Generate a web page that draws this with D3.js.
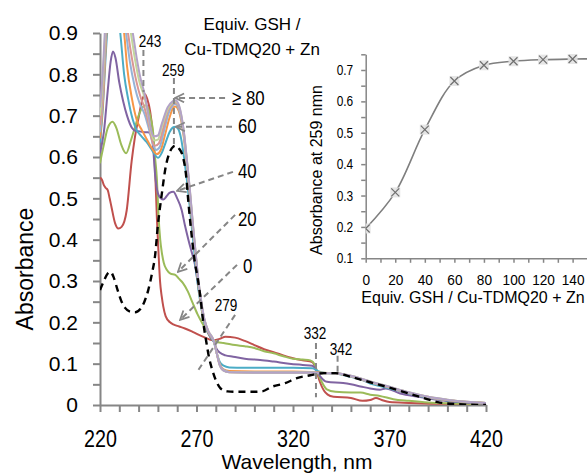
<!DOCTYPE html>
<html><head><meta charset="utf-8">
<script src="https://cdn.jsdelivr.net/npm/d3@7"></script>
<style>
body{margin:0;background:#fff}
svg{display:block}
text{font-family:"Liberation Sans",Arial,sans-serif;fill:#000}
</style>
</head><body>
<svg id="c" width="587" height="474"></svg>
<script>
// ---------- DATA ----------
const wlLabelTicks = [220, 270, 320, 370, 420];
const absLabelTicks = [0, 0.1, 0.2, 0.3, 0.4, 0.5, 0.6, 0.7, 0.8, 0.9];
const equivLabelTicks = [0, 20, 40, 60, 80, 100, 120, 140];
const insetAbsLabelTicks = [0.1, 0.2, 0.3, 0.4, 0.5, 0.6, 0.7];

// inset: absorbance at 259 nm vs equiv. GSH
const equivGSH = [0, 20, 40, 60, 80, 100, 120, 140, 160];
const abs259   = [0.195, 0.31, 0.51, 0.665, 0.715, 0.728, 0.733, 0.735, 0.736];

// spectra: [wavelength nm, absorbance]
const specRef = [[220,0.278],[222,0.30],[224,0.318],[225.5,0.322],[227,0.31],[229,0.28],[231,0.252],[233,0.235],[235.5,0.226],[238,0.224],[241,0.233],[243,0.25],[245,0.278],[247,0.32],[248.5,0.36],[250,0.435],[252,0.51],[254,0.575],[256,0.61],[258,0.625],[259,0.627],[261,0.62],[263,0.6],[264.5,0.56],[266,0.48],[267.5,0.41],[269,0.35],[270.5,0.31],[272,0.262],[273.5,0.2],[275,0.155],[276.5,0.115],[278.5,0.08],[280.5,0.055],[282.5,0.04],[286,0.033],[290,0.032],[300,0.032],[304,0.033],[309,0.044],[316,0.053],[322,0.065],[329,0.072],[332,0.075],[336,0.077],[342,0.077],[350,0.068],[360,0.055],[370,0.042],[380,0.028],[387,0.018],[395,0.007],[405,0.002],[420,0]];
const spec0 = [[220,0.55],[221,0.545],[222,0.532],[223,0.525],[224,0.52],[225,0.5],[226,0.478],[227.8,0.44],[229.5,0.427],[231.2,0.431],[233.8,0.47],[236.4,0.59],[238,0.645],[240,0.695],[242,0.74],[243.3,0.752],[244.5,0.74],[246,0.71],[247.3,0.66],[248,0.62],[248.7,0.55],[249.5,0.45],[250.3,0.37],[251.1,0.3],[252,0.262],[252.8,0.238],[254,0.215],[256.3,0.2],[258,0.195],[261,0.19],[264,0.185],[268,0.177],[273,0.166],[278.5,0.157],[282,0.16],[285,0.165],[290,0.163],[295,0.155],[300,0.145],[305,0.135],[310,0.128],[315,0.12],[320,0.113],[325,0.108],[330,0.104],[332,0.085],[334,0.055],[336,0.035],[338,0.025],[341,0.02],[350,0.017],[356,0.01],[360,0.012],[363,0.017],[366,0.012],[370,0.007],[380,0.005],[395,0.003],[420,0.002]];
const spec20 = [[220,0.585],[222,0.63],[224,0.67],[226.5,0.685],[228.5,0.67],[231,0.63],[233.5,0.609],[236,0.64],[238,0.67],[240,0.7],[242,0.72],[244,0.725],[246,0.70],[247.5,0.66],[248.5,0.6],[249.5,0.545],[250.3,0.46],[251.2,0.4],[252,0.37],[253,0.345],[254.6,0.327],[256.5,0.318],[259,0.315],[261,0.305],[263,0.295],[265.5,0.275],[268,0.247],[270.5,0.22],[273,0.198],[276,0.175],[278.5,0.157],[281,0.152],[284,0.15],[290,0.145],[295,0.142],[300,0.138],[305,0.13],[310,0.125],[315,0.118],[320,0.112],[325,0.11],[329,0.108],[331,0.1],[333,0.075],[335,0.055],[337.5,0.038],[342,0.032],[350,0.03],[355,0.03],[360,0.025],[365,0.022],[372,0.014],[380,0.01],[390,0.006],[400,0.004],[420,0.002]];
const spec40 = [[220,0.61],[222,0.66],[224,0.76],[225.5,0.83],[226.7,0.855],[228,0.84],[230,0.78],[232,0.735],[234,0.70],[236.6,0.67],[238.5,0.663],[240.7,0.662],[243,0.66],[245,0.66],[246.5,0.652],[247.5,0.625],[248.5,0.56],[250,0.512],[251.5,0.5],[252.8,0.497],[254.5,0.505],[256,0.513],[258,0.516],[260,0.5],[262.3,0.472],[264,0.435],[265.8,0.4],[267.5,0.37],[269.2,0.34],[270.5,0.3],[271.8,0.26],[273.5,0.21],[275,0.185],[277,0.165],[279,0.153],[280.5,0.135],[282,0.127],[285,0.12],[289,0.117],[295,0.112],[303,0.109],[310,0.105],[318,0.1],[325,0.097],[330,0.095],[332,0.085],[334,0.07],[337.6,0.056],[346,0.053],[350,0.05],[355,0.045],[360,0.04],[365,0.037],[368,0.04],[375.5,0.028],[385,0.02],[396,0.012],[405,0.007],[415,0.004],[420,0.003]];
const spec60 = [[220,0.635],[221.5,0.72],[223,0.85],[224.5,0.95],[226.5,1.0],[228.5,0.97],[230.5,0.9],[232.5,0.8],[234.6,0.74],[237,0.69],[239,0.665],[241.5,0.65],[244,0.637],[246.5,0.62],[248.5,0.605],[250,0.598],[252,0.61],[254,0.635],[256,0.66],[258,0.672],[259,0.673],[260.5,0.668],[262,0.645],[263.5,0.6],[265,0.545],[266.5,0.48],[268,0.41],[269.5,0.34],[271,0.28],[272.5,0.235],[274,0.2],[276,0.175],[278,0.16],[279,0.152],[280.5,0.125],[282,0.105],[284,0.095],[287,0.091],[295,0.09],[310,0.09],[320,0.09],[330,0.089],[333,0.082],[336,0.078],[342,0.076],[350,0.068],[355,0.062],[360,0.052],[365,0.046],[370,0.04],[380,0.028],[390,0.018],[400,0.011],[410,0.007],[420,0.005]];
const spec80 = [[220,0.645],[221.5,0.73],[223,0.87],[224.5,0.98],[226.5,1.03],[229,1.0],[231,0.95],[232.5,0.9],[234,0.82],[236.6,0.74],[239,0.69],[241.7,0.665],[244,0.645],[247,0.62],[249.5,0.607],[251.5,0.617],[253.5,0.65],[256,0.695],[258,0.72],[259,0.722],[260.5,0.715],[262,0.69],[263.5,0.645],[265,0.58],[266.5,0.51],[268,0.43],[269.5,0.36],[271,0.29],[272.5,0.24],[274,0.205],[276,0.177],[278,0.162],[279,0.155],[280.5,0.125],[282,0.1],[284,0.086],[287,0.082],[300,0.081],[320,0.081],[330,0.08],[335,0.078],[342,0.077],[350,0.069],[360,0.055],[370,0.042],[380,0.029],[390,0.019],[400,0.012],[410,0.007],[420,0.005]];
const spec100 = [[220,0.66],[221.5,0.75],[223,0.89],[224.5,1.0],[226.5,1.05],[229,1.03],[231.5,0.97],[233.5,0.9],[235.5,0.83],[238,0.77],[240.5,0.73],[243,0.705],[245.5,0.665],[247.5,0.63],[249,0.617],[251,0.625],[253,0.66],[255.5,0.705],[257.5,0.724],[259,0.728],[260.5,0.72],[262,0.695],[263.5,0.65],[265,0.585],[266.5,0.515],[268,0.435],[269.5,0.365],[271,0.295],[272.5,0.245],[274,0.207],[276,0.178],[278,0.163],[279,0.155],[280.5,0.125],[282,0.098],[284,0.085],[287,0.08],[300,0.079],[320,0.079],[330,0.079],[335,0.077],[342,0.077],[350,0.069],[360,0.055],[370,0.042],[380,0.029],[390,0.019],[400,0.012],[410,0.007],[420,0.005]];
const spec120 = [[220,0.677],[221.5,0.77],[223,0.91],[224.5,1.02],[226.5,1.07],[229,1.05],[232,0.98],[234.5,0.9],[236.5,0.84],[239,0.78],[241,0.745],[243,0.72],[245.5,0.675],[247,0.64],[248.5,0.627],[250.5,0.633],[252.5,0.665],[255,0.71],[257.5,0.728],[259,0.732],[260.5,0.725],[262,0.7],[263.5,0.655],[265,0.59],[266.5,0.52],[268,0.44],[269.5,0.368],[271,0.298],[272.5,0.247],[274,0.208],[276,0.179],[278,0.164],[279,0.155],[280.5,0.125],[282,0.097],[284,0.084],[287,0.079],[300,0.078],[320,0.078],[330,0.078],[335,0.077],[342,0.077],[350,0.07],[360,0.056],[370,0.043],[380,0.03],[390,0.02],[400,0.012],[410,0.008],[420,0.005]];
const spec140 = [[220,0.70],[221.5,0.79],[223,0.93],[224.5,1.04],[226.5,1.09],[229,1.07],[232,1.0],[236,0.9],[238,0.84],[240.5,0.78],[243,0.745],[245,0.7],[246.5,0.66],[248,0.64],[250,0.642],[252,0.672],[255,0.715],[257.5,0.731],[259,0.735],[260.5,0.728],[262,0.703],[263.5,0.658],[265,0.593],[266.5,0.523],[268,0.443],[269.5,0.37],[271,0.3],[272.5,0.249],[274,0.209],[276,0.18],[278,0.165],[279,0.155],[280.5,0.125],[282,0.097],[284,0.083],[287,0.079],[300,0.078],[320,0.078],[330,0.078],[335,0.077],[342,0.077],[350,0.071],[360,0.057],[370,0.044],[380,0.031],[390,0.02],[400,0.013],[410,0.008],[420,0.005]];
const spec160 = [[220,0.72],[221.5,0.81],[223,0.95],[224.5,1.06],[226.5,1.11],[229,1.09],[232,1.02],[237,0.9],[239,0.84],[241,0.79],[243,0.755],[245,0.705],[246.5,0.665],[248,0.65],[250,0.652],[252,0.68],[255,0.72],[257.5,0.734],[259,0.737],[260.5,0.73],[262,0.705],[263.5,0.66],[265,0.595],[266.5,0.525],[268,0.445],[269.5,0.372],[271,0.302],[272.5,0.25],[274,0.21],[276,0.18],[278,0.165],[279,0.155],[280.5,0.125],[282,0.097],[284,0.083],[287,0.079],[300,0.078],[320,0.078],[330,0.078],[335,0.077],[342,0.077],[350,0.071],[360,0.057],[370,0.044],[380,0.031],[390,0.02],[400,0.013],[410,0.008],[420,0.005]];

const seriesList = [
  {name:"ref", data:specRef, color:"#000000", dash:"7,5", width:2.4},
  {name:"0",   data:spec0,   color:"#C0504D"},
  {name:"20",  data:spec20,  color:"#9BBB59"},
  {name:"40",  data:spec40,  color:"#8064A2"},
  {name:"60",  data:spec60,  color:"#4BACC6"},
  {name:"80",  data:spec80,  color:"#F79646"},
  {name:"100", data:spec100, color:"#95B3D7"},
  {name:"120", data:spec120, color:"#D99694"},
  {name:"140", data:spec140, color:"#C3D69B"},
  {name:"160", data:spec160, color:"#B3A2C7"}
];

// annotations in data units
const arrows = [
  {from:[284.8,0.743], to:[259.0,0.743]},
  {from:[288.4,0.673], to:[259.4,0.673]},
  {from:[288.9,0.564], to:[259.9,0.518]},
  {from:[290.0,0.460], to:[260.4,0.322]},
  {from:[291.0,0.339], to:[261.5,0.206]}
];
const guideLines = [
  {from:[242.5,0.859], to:[242.5,0.757]},
  {from:[258.3,0.791], to:[258.3,0.624]},
  {from:[290.0,0.218], to:[270.3,0.080]},
  {from:[331.9,0.150], to:[331.9,0.019]},
  {from:[343.1,0.119], to:[343.1,0.080]}
];
const numLabels = [
  {t:"243", at:[245.9,0.866], anchor:"middle", size:17},
  {t:"259", at:[258.0,0.797], anchor:"middle", size:17},
  {t:"279", at:[285.3,0.227], anchor:"middle", size:17},
  {t:"332", at:[331.4,0.160], anchor:"middle", size:17},
  {t:"342", at:[344.9,0.121], anchor:"middle", size:17},
  {t:"\u2265 80", at:[288.4,0.727], anchor:"start", size:21},
  {t:"60", at:[291.5,0.659], anchor:"start", size:21},
  {t:"40", at:[291.5,0.550], anchor:"start", size:21},
  {t:"20", at:[291.5,0.434], anchor:"start", size:21},
  {t:"0",  at:[294.1,0.320], anchor:"start", size:21}
];
const titleLines = [
  {t:"Equiv. GSH /", at:[298.8,0.907]},
  {t:"Cu-TDMQ20 + Zn", at:[298.8,0.847]}
];

// ---------- DRAW ----------
const svg = d3.select("#c");
const grey = "#868686";
function narrow(sel, k){ sel.each(function(){ const L=this.getComputedTextLength(); if(L>0){ this.setAttribute("textLength", (L*k).toFixed(2)); this.setAttribute("lengthAdjust","spacingAndGlyphs"); } }); }

const x = d3.scaleLinear().domain([220,420]).range([100,486]);
const y = d3.scaleLinear().domain([0,0.9]).range([405,33]);

const defs = svg.append("defs");
defs.append("clipPath").attr("id","clipMain").append("rect")
  .attr("x",x(220)).attr("y",y(0.9)).attr("width",x(420)-x(220)+2).attr("height",y(0)-y(0.9));
defs.append("marker").attr("id","arr").attr("viewBox","0 0 10 10").attr("refX",9).attr("refY",5)
  .attr("markerWidth",11).attr("markerHeight",11).attr("markerUnits","userSpaceOnUse").attr("orient","auto")
  .append("path").attr("d","M1,1 L9,5 L1,9").attr("fill","none").attr("stroke",grey).attr("stroke-width",1.6);

// main axes
const xAxis = d3.axisBottom(x).tickValues(d3.range(220,421,10)).tickSize(7).tickSizeOuter(0).tickPadding(18)
  .tickFormat(d => wlLabelTicks.includes(d) ? d : "");
const gx = svg.append("g").attr("transform",`translate(0,${y(0)})`).call(xAxis);
const yTickVals = d3.range(0,19).map(i => i*0.05);
const yAxis = d3.axisLeft(y).tickValues(yTickVals).tickSize(7).tickSizeOuter(0).tickPadding(15)
  .tickFormat(d => { const r=Math.round(d*10)/10; return (Math.abs(r-d)<1e-6 && absLabelTicks.some(v=>Math.abs(v-r)<1e-6)) ? String(r) : ""; });
const gy = svg.append("g").attr("transform",`translate(${x(220)},0)`).call(yAxis);
[gx,gy].forEach(g => { g.selectAll("path,line").attr("stroke",grey).attr("stroke-width",2); g.selectAll("text").attr("font-family","Liberation Sans, Arial, sans-serif"); });
gx.selectAll("text").attr("font-size",24).call(narrow,0.82);
gy.selectAll("text").attr("font-size",21);

svg.append("text").attr("transform",`translate(33,269) rotate(-90)`).attr("text-anchor","middle")
  .attr("font-size",23).text("Absorbance");
svg.append("text").attr("x",297).attr("y",469).attr("text-anchor","middle").attr("font-size",21).text("Wavelength, nm");

// spectra
const line = d3.line().x(d=>x(d[0])).y(d=>y(d[1])).curve(d3.curveMonotoneX);
const gS = svg.append("g").attr("clip-path","url(#clipMain)");
seriesList.slice(1).concat([seriesList[0]]).forEach(s => {
  gS.append("path").datum(s.data).attr("d",line).attr("fill","none")
    .attr("stroke",s.color).attr("stroke-width",s.width||2).attr("stroke-dasharray",s.dash||null)
    .attr("stroke-linejoin","round");
});

// annotations
const gA = svg.append("g");
guideLines.forEach(g => gA.append("line").attr("x1",x(g.from[0])).attr("y1",y(g.from[1])).attr("x2",x(g.to[0])).attr("y2",y(g.to[1]))
  .attr("stroke",grey).attr("stroke-width",2).attr("stroke-dasharray","6,4"));
arrows.forEach(a => gA.append("line").attr("x1",x(a.from[0])).attr("y1",y(a.from[1])).attr("x2",x(a.to[0])).attr("y2",y(a.to[1]))
  .attr("stroke",grey).attr("stroke-width",2).attr("stroke-dasharray","6,4").attr("marker-end","url(#arr)"));
numLabels.forEach(l => gA.append("text").attr("x",x(l.at[0])).attr("y",y(l.at[1])).attr("text-anchor",l.anchor)
  .attr("font-size",l.size).text(l.t).call(narrow,0.8));
titleLines.forEach(l => gA.append("text").attr("x",x(l.at[0])).attr("y",y(l.at[1])).attr("text-anchor","middle")
  .attr("font-size",17).text(l.t));

// ---------- INSET ----------
const xi = d3.scaleLinear().domain([0,150]).range([365.7,587.4]);
const yi = d3.scaleLinear().domain([0.1,0.75]).range([258.3,54.3]);
defs.append("clipPath").attr("id","clipIn").append("rect").attr("x",xi(0)).attr("y",yi(0.75)-10).attr("width",xi(150)-xi(0)).attr("height",yi(0.1)-yi(0.75)+10);

const xiAxis = d3.axisBottom(xi).tickValues(d3.range(0,151,10)).tickSize(4.5).tickSizeOuter(0).tickPadding(11)
  .tickFormat(d => equivLabelTicks.includes(d) ? d : "");
const giX = svg.append("g").attr("transform",`translate(0,${yi(0.1)})`).call(xiAxis);
const yiAxis = d3.axisLeft(yi).tickValues(d3.range(0,14).map(i=>0.1+i*0.05)).tickSize(4.5).tickSizeOuter(0).tickPadding(8)
  .tickFormat(d => { const r=Math.round(d*10)/10; return (Math.abs(r-d)<1e-6 && insetAbsLabelTicks.some(v=>Math.abs(v-r)<1e-6)) ? r.toFixed(1) : ""; });
const giY = svg.append("g").attr("transform",`translate(${xi(0)},0)`).call(yiAxis);
[giX,giY].forEach(g => { g.selectAll("path,line").attr("stroke",grey).attr("stroke-width",1.5); g.selectAll("text").attr("font-family","Liberation Sans, Arial, sans-serif"); });
giX.selectAll("text").attr("font-size",15.5).call(narrow,0.88);
giY.selectAll("text").attr("font-size",14).call(narrow,0.85);

svg.append("text").attr("x",473).attr("y",303).attr("text-anchor","middle").attr("font-size",16).text("Equiv. GSH / Cu-TDMQ20 + Zn");
svg.append("text").attr("transform",`translate(322,170) rotate(-90)`).attr("text-anchor","middle").attr("font-size",16).text("Absorbance at 259 nmn");

const insetPts = equivGSH.map((e,i)=>[e,abs259[i]]);
const lineI = d3.line().x(d=>xi(d[0])).y(d=>yi(d[1])).curve(d3.curveCatmullRom.alpha(0.5));
const gI = svg.append("g").attr("clip-path","url(#clipIn)");
gI.append("path").datum(insetPts).attr("d",lineI).attr("fill","none").attr("stroke","#7f7f7f").attr("stroke-width",1.6);
const mk = gI.selectAll("g.mk").data(insetPts).join("g").attr("class","mk")
  .attr("transform",d=>`translate(${xi(d[0])},${yi(d[1])})`);
mk.append("rect").attr("x",-5).attr("y",-5).attr("width",10).attr("height",10).attr("fill","#e3e3e3").attr("opacity",0.9);
mk.append("path").attr("d","M-4,-4L4,4M-4,4L4,-4").attr("stroke","#6f6f6f").attr("stroke-width",1.2);
</script>
</body></html>
